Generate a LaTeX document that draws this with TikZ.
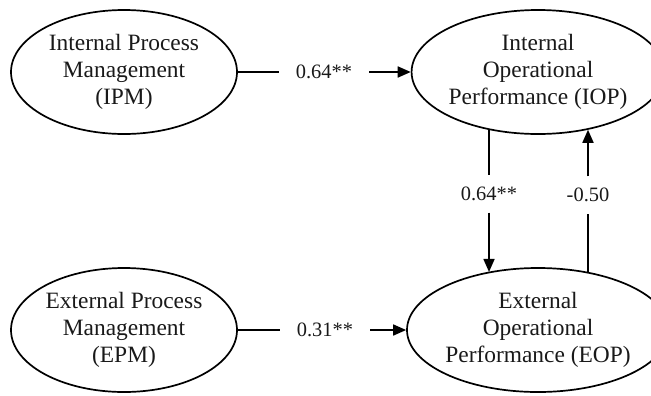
\documentclass[tikz,border=0pt]{standalone}
\usepackage{fontspec}
\setmainfont{Liberation Serif}
\usetikzlibrary{shapes.geometric,arrows.meta}
\begin{document}
\begin{tikzpicture}[x=1bp,y=-1bp,
  construct/.style={ellipse, draw, line width=1.7bp, inner sep=0pt,
    minimum width=226bp, minimum height=124bp, align=center,
    font=\fontsize{23.5}{27}\selectfont, text=black!90},
  coef/.style={inner sep=0pt, font=\fontsize{20.5}{24}\selectfont, text=black!90},
  hcoef/.style={coef, minimum width=90bp, minimum height=20bp},
  vcoef/.style={coef, minimum height=37bp},
  link/.style={line width=1.7bp, draw=black},
  path arrow/.style={link, -{Triangle[length=13bp,width=11bp]}}]
  \useasboundingbox (0,0) rectangle (651,395);

  % latent constructs
  \node[construct] (ipm) at (124,72)  {Internal Process\\Management\\(IPM)};
  \node[construct] (iop) at (538,72)  {Internal\\Operational\\Performance (IOP)};
  \node[construct] (epm) at (124,330) {External Process\\Management\\(EPM)};
  \node[construct] (eop) at (538,330) {External\\Operational\\Performance (EOP)};

  % path coefficients
  \node[hcoef] (c1) at (324,72)  {0.64**};
  \node[hcoef] (c2) at (325,330) {0.31**};
  \node[vcoef] (c3) at (489,194) {0.64**};
  \node[vcoef] (c4) at (588,195) {-0.50};

  % structural paths
  \draw[link] (ipm.east) -- (c1.west);
  \draw[path arrow] (c1.east) -- (iop.west);
  \draw[link] (epm.east) -- (c2.west);
  \draw[path arrow] (c2.east) -- (eop.west);
  \draw[link] (c3.north |- iop.229) -- (c3.north);
  \draw[path arrow] (c3.south) -- (c3.south |- eop.131);
  \draw[link] (c4.south |- eop.49) -- (c4.south);
  \draw[path arrow] (c4.north) -- (c4.north |- iop.311);
\end{tikzpicture}
\end{document}
